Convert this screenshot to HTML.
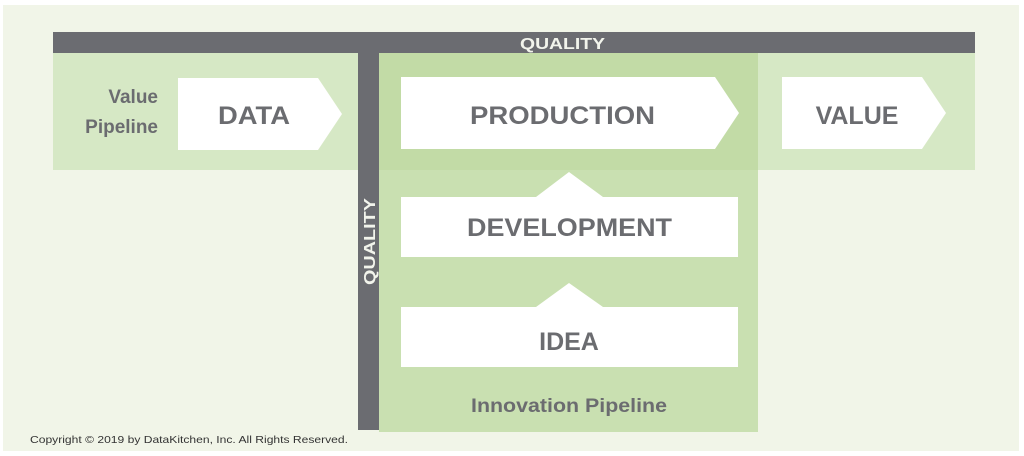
<!DOCTYPE html>
<html><head><meta charset="utf-8"><style>
html,body{margin:0;padding:0;background:#fff;width:1024px;height:456px;overflow:hidden}
svg{display:block}
text{font-family:"Liberation Sans",sans-serif;font-weight:bold;fill:#6b6c70}
</style></head><body>
<svg width="1024" height="456" viewBox="0 0 1024 456" xmlns="http://www.w3.org/2000/svg">
<rect x="3" y="5" width="1016" height="446" fill="#f1f5e8"/>
<rect x="53" y="52" width="922" height="118" fill="#d6e8c5"/>
<rect x="379" y="52" width="379" height="380" fill="#c9e0b1"/>
<rect x="379" y="52" width="379" height="118" fill="#c2dba6"/>
<rect x="53" y="32" width="922" height="21" fill="#6b6c71"/>
<rect x="358" y="52" width="21" height="378" fill="#6b6c71"/>
<text x="520" y="49" font-size="16" textLength="85" lengthAdjust="spacingAndGlyphs" style="fill:#f2f4ec">QUALITY</text>
<text transform="translate(375,285) rotate(-90)" font-size="16" textLength="87" lengthAdjust="spacingAndGlyphs" style="fill:#f2f4ec">QUALITY</text>
<polygon points="178,78 318,78 342,114 318,150 178,150" fill="#fff"/>
<polygon points="401,77 715,77 739,113 715,149 401,149" fill="#fff"/>
<polygon points="782,77 922,77 946,113 922,149 782,149" fill="#fff"/>
<polygon points="401,197 536,197 569,172 603,197 738,197 738,257 401,257" fill="#fff"/>
<polygon points="401,307 536,307 569,283 603,307 738,307 738,367 401,367" fill="#fff"/>
<text x="158" y="103" font-size="19" text-anchor="end">Value</text>
<text x="158" y="133" font-size="19" text-anchor="end">Pipeline</text>
<text x="218" y="124" font-size="25" textLength="72" lengthAdjust="spacingAndGlyphs">DATA</text>
<text x="470" y="124" font-size="25" textLength="185" lengthAdjust="spacingAndGlyphs">PRODUCTION</text>
<text x="857" y="124" font-size="25" text-anchor="middle">VALUE</text>
<text x="467" y="236" font-size="25" textLength="205" lengthAdjust="spacingAndGlyphs">DEVELOPMENT</text>
<text x="569" y="350" font-size="25" text-anchor="middle">IDEA</text>
<text x="471" y="412" font-size="19" textLength="196" lengthAdjust="spacingAndGlyphs">Innovation Pipeline</text>
<text x="30" y="443" font-size="10.5" textLength="318" lengthAdjust="spacingAndGlyphs" style="font-weight:normal;fill:#333">Copyright © 2019 by DataKitchen, Inc.  All Rights Reserved.</text>
</svg>
</body></html>
